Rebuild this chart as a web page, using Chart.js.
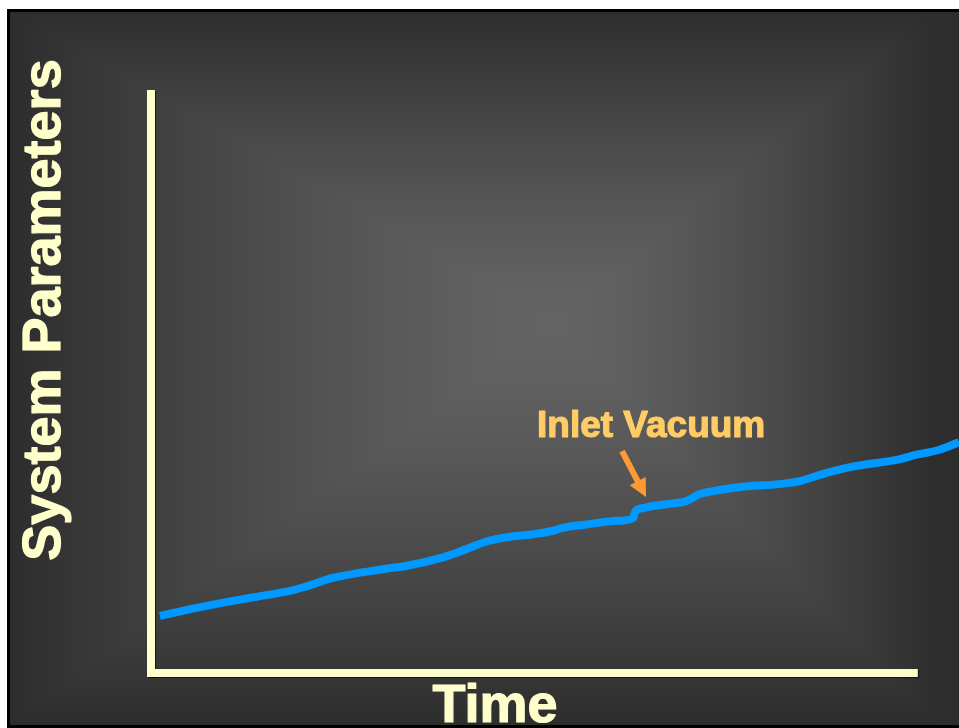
<!DOCTYPE html>
<html>
<head>
<meta charset="utf-8">
<script src="https://cdn.jsdelivr.net/npm/chart.js@4"></script>
<style>
  html, body { margin: 0; padding: 0; background: #fff; }
  #wrap { width: 959px; height: 728px; position: relative; }
</style>
</head>
<body>
<div id="wrap"><canvas id="chart" width="959" height="728"></canvas></div>
<script>
// Time (0-100) and system parameter level (0-100)
const timeValues = [1.1, 6.1, 12.3, 17.2, 19.1, 22.5, 28.7, 31.7, 35.8, 38.2, 41.6, 44.1, 47.3, 49.8, 51.0, 53.5, 57.7, 59.7, 59.9, 60.9, 63.9, 66.3, 67.9, 69.6, 72.9, 77.8, 80.3, 82.8, 86.5, 92.7, 94.6, 97.6, 100];
const paramValues = [9.8, 11.3, 12.9, 14.1, 14.8, 16.3, 17.8, 18.4, 19.7, 20.8, 22.6, 23.3, 23.8, 24.4, 24.9, 25.4, 26.1, 26.6, 27.6, 28.3, 29.0, 29.5, 30.7, 31.2, 31.9, 32.4, 32.9, 34.0, 35.3, 36.7, 37.4, 38.3, 39.6];

const xTitle = 'Time';
const yTitle = 'System Parameters';
const noteText = 'Inlet Vacuum';
const noteIndex = 18;    // point the arrow points at
const xAxisEnd = 94.9;   // x axis line stops short of the right edge

const cream = '#FFFFCC';
const font = '"Liberation Sans", Arial, sans-serif';

// slide background: white edge, black frame, rectangular grey gradient
let bgCache = null;
function makeBackground(w, h) {
  const c = document.createElement('canvas');
  c.width = w; c.height = h;
  const g = c.getContext('2d');
  g.fillStyle = '#fff';
  g.fillRect(0, 0, w, h);
  g.fillStyle = '#000';
  g.fillRect(7, 9, w - 7, h - 9);
  const x0 = 10, y0 = 12, x1 = w, y1 = h - 3;
  const img = g.createImageData(x1 - x0, y1 - y0);
  const cx = 555, cy = 320;
  const eL = cx - x0, eR = 380, eT = cy - y0, eB = 405;
  const light = 100, dark = 45;
  let i = 0;
  for (let y = y0; y < y1; y++) {
    const dy = y < cy ? (cy - y) / eT : (y - cy) / eB;
    for (let x = x0; x < x1; x++) {
      const dx = x < cx ? (cx - x) / eL : (x - cx) / eR;
      let t = Math.min(1, Math.max(dx, dy));
      t = Math.pow(t, 1.35);
      const v = Math.round(light - (light - dark) * t);
      img.data[i++] = v; img.data[i++] = v; img.data[i++] = v; img.data[i++] = 255;
    }
  }
  g.putImageData(img, x0, y0);
  return c;
}

function heavyText(ctx, text, x, y, color) {
  ctx.fillStyle = color;
  ctx.strokeStyle = color;
  ctx.lineWidth = 1.2;
  ctx.lineJoin = 'round';
  ctx.fillText(text, x, y);
  ctx.strokeText(text, x, y);
}

const slidePlugin = {
  id: 'slide',
  beforeDraw(chart) {
    if (!bgCache) bgCache = makeBackground(chart.width, chart.height);
    chart.ctx.drawImage(bgCache, 0, 0);
  },
  beforeDatasetsDraw(chart) {
    const ctx = chart.ctx;
    const xs = chart.scales.x, ys = chart.scales.y;
    const left = xs.getPixelForValue(0);
    const bottom = ys.getPixelForValue(0);
    const top = ys.getPixelForValue(100);
    const right = xs.getPixelForValue(xAxisEnd);
    ctx.save();
    ctx.shadowColor = 'rgba(0,0,0,0.6)';
    ctx.shadowOffsetX = 1;
    ctx.shadowOffsetY = 1;
    ctx.fillStyle = cream;
    ctx.fillRect(left - 4, top, 8, bottom - top + 4);
    ctx.fillRect(left, bottom - 4, right - left, 8);
    ctx.restore();
  },
  afterDraw(chart) {
    const ctx = chart.ctx;
    ctx.save();
    ctx.font = 'bold 54px ' + font;
    ctx.textAlign = 'center';
    ctx.textBaseline = 'alphabetic';
    heavyText(ctx, xTitle, 495, 722, cream);
    ctx.translate(60, 310);
    ctx.rotate(-Math.PI / 2);
    heavyText(ctx, yTitle, 0, 0, cream);
    ctx.restore();

    // annotation with arrow
    const pt = chart.getDatasetMeta(0).data[noteIndex];
    const tipX = pt.x + 11, tipY = pt.y - 15;
    const tailX = tipX - 24, tailY = tipY - 46;
    const ang = Math.atan2(tipY - tailY, tipX - tailX);
    ctx.save();
    ctx.fillStyle = '#FF9933';
    ctx.strokeStyle = '#FF9933';
    ctx.lineWidth = 6;
    ctx.beginPath();
    ctx.moveTo(tailX, tailY);
    ctx.lineTo(tipX - 14 * Math.cos(ang), tipY - 14 * Math.sin(ang));
    ctx.stroke();
    ctx.translate(tipX, tipY);
    ctx.rotate(ang);
    ctx.beginPath();
    ctx.moveTo(0, 0);
    ctx.lineTo(-18, -9);
    ctx.lineTo(-18, 9);
    ctx.closePath();
    ctx.fill();
    ctx.restore();

    ctx.save();
    ctx.font = 'bold 37px ' + font;
    ctx.textAlign = 'left';
    ctx.textBaseline = 'alphabetic';
    heavyText(ctx, noteText, 537, 437, '#FFCC66');
    ctx.restore();
  }
};

new Chart(document.getElementById('chart'), {
  type: 'line',
  data: {
    datasets: [{
      data: timeValues.map((t, i) => ({ x: t, y: paramValues[i] })),
      borderColor: '#0099FF',
      borderWidth: 8,
      pointRadius: 0,
      cubicInterpolationMode: 'monotone',
      fill: false
    }]
  },
  options: {
    responsive: false,
    animation: false,
    layout: { padding: { left: 151, right: 0, top: 90, bottom: 55 } },
    scales: {
      x: { type: 'linear', min: 0, max: 100, display: false },
      y: { min: 0, max: 100, display: false }
    },
    plugins: {
      legend: { display: false },
      tooltip: { enabled: false }
    }
  },
  plugins: [slidePlugin]
});
</script>
</body>
</html>
